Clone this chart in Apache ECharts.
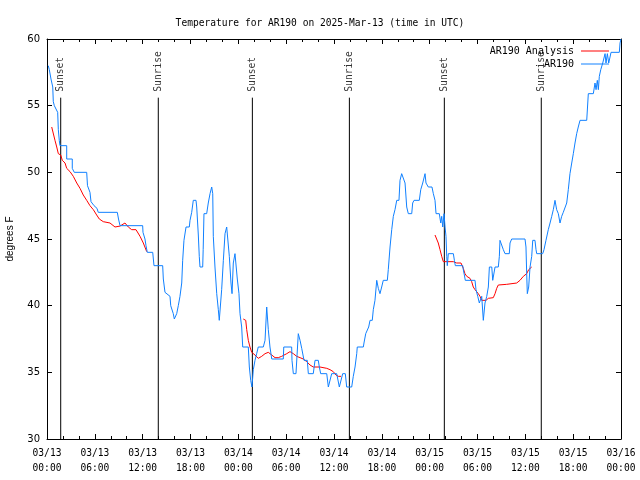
<!DOCTYPE html>
<html><head><meta charset="utf-8">
<script src="https://cdn.jsdelivr.net/npm/echarts@6/dist/echarts.min.js"></script>
<style>html,body{margin:0;padding:0;background:#fff}#c{width:640px;height:480px}</style>
</head><body><div id="c"></div>
<script>
// hours since 2025-03-13 00:00 UTC
const blueHours = [0.16,0.29,0.50,0.72,0.79,0.92,1.13,1.34,1.42,1.54,1.63,2.47,2.47,3.17,3.17,3.42,3.42,4.98,5.08,5.33,5.39,5.52,5.90,6.27,6.43,8.82,8.97,9.16,12.00,12.04,12.29,12.42,12.58,13.26,13.42,14.51,14.59,14.80,15.05,15.43,15.52,15.84,15.97,16.18,16.27,16.47,16.68,16.90,17.02,17.18,17.44,17.85,17.94,18.15,18.35,18.69,18.78,18.98,19.10,19.19,19.53,19.59,19.69,20.03,20.23,20.45,20.66,20.79,20.86,21.07,21.29,21.49,21.61,21.79,21.91,22.12,22.33,22.54,22.74,22.87,23.08,23.21,23.37,23.58,23.80,23.87,24.08,24.21,24.42,24.55,25.25,25.38,25.55,25.71,25.88,26.09,26.30,26.50,27.13,27.35,27.56,27.76,27.97,28.19,29.64,29.70,30.69,30.73,30.90,31.23,31.52,31.74,31.95,32.24,32.65,32.78,33.40,33.62,34.03,34.16,34.33,35.09,35.29,35.50,35.71,36.34,36.67,36.88,37.09,37.42,37.59,38.22,38.42,38.64,38.85,38.92,39.68,39.76,39.98,40.18,40.35,40.52,40.80,40.93,41.14,41.36,41.56,41.77,41.98,42.18,42.69,42.81,43.03,43.24,43.44,43.65,43.87,44.15,44.28,44.49,44.69,44.91,45.12,45.32,45.75,45.87,46.04,46.70,46.88,47.13,47.42,47.54,47.83,48.29,48.46,48.67,48.80,49.21,49.39,49.51,49.64,49.80,49.93,50.05,50.14,50.21,50.34,50.97,51.10,51.22,52.15,52.22,52.35,52.47,53.69,53.81,54.03,54.23,54.53,54.73,54.94,55.16,55.36,55.49,55.79,55.91,56.20,56.61,56.74,56.82,57.04,57.24,57.45,57.99,58.08,58.29,59.96,60.08,60.17,60.25,60.42,60.59,60.80,60.93,61.21,61.34,61.43,62.18,62.34,62.59,62.88,63.10,63.31,63.51,63.72,63.93,64.14,64.35,64.56,64.76,64.97,65.19,65.39,65.60,65.82,66.02,66.23,66.44,66.64,66.86,67.70,67.90,68.53,68.74,68.87,69.03,69.16,69.28,69.46,69.71,70.00,70.12,70.29,70.46,70.62,70.75,71.79,71.88,72.00];
const blueTemps = [58.0,57.7,57.0,56.4,55.3,55.0,55.0,54.5,53.2,52.4,52.0,52.0,51.0,51.0,50.3,50.3,50.0,50.0,49.0,49.0,48.5,47.8,47.5,47.3,47.0,47.0,46.5,46.0,46.0,45.5,45.0,44.5,44.0,44.0,43.0,43.0,42.0,41.0,40.9,40.7,40.0,39.4,39.0,39.0,39.4,40.0,40.7,41.7,43.4,44.9,45.9,45.9,46.4,47.0,47.9,47.9,47.4,45.3,43.7,42.9,42.9,44.2,46.9,46.9,47.7,48.4,48.9,48.4,45.2,42.9,40.9,39.7,38.9,38.9,41.2,43.4,45.4,45.9,45.9,43.7,41.7,40.9,43.2,43.9,43.9,42.0,40.9,39.4,38.4,36.9,36.9,35.4,34.4,33.9,35.2,35.9,36.4,36.9,36.9,37.4,39.9,38.2,36.9,36.0,36.0,36.9,36.9,35.9,34.9,34.9,37.9,37.4,36.8,35.9,35.9,34.9,34.9,35.9,35.9,35.4,34.9,34.9,33.9,33.9,34.9,34.9,33.9,33.9,34.9,34.9,33.9,33.9,34.7,35.4,36.4,36.9,36.9,37.2,37.9,37.9,38.4,38.9,38.9,39.7,40.4,41.9,41.3,40.9,41.4,41.9,41.9,42.7,44.4,45.7,46.7,47.2,47.9,47.9,49.4,49.9,49.9,49.2,47.4,46.9,46.9,47.7,47.9,47.9,48.7,49.2,49.9,49.2,48.9,48.9,48.4,47.9,46.9,46.9,46.2,46.7,45.9,46.9,45.9,45.2,43.7,43.0,43.9,43.9,43.4,43.0,43.0,42.7,42.3,41.9,41.9,41.2,40.7,40.2,40.7,38.9,40.2,40.7,41.4,42.9,42.9,41.9,42.9,42.9,43.7,44.9,44.9,44.2,43.9,43.9,44.7,45.0,45.0,44.4,42.4,40.9,41.4,42.9,43.7,44.9,44.9,44.2,43.9,43.9,44.2,44.9,45.7,46.2,46.7,47.2,47.9,47.2,46.9,46.2,46.7,47.0,47.0,47.7,48.7,49.9,50.7,51.4,52.2,52.9,53.4,53.9,53.9,55.9,55.9,56.7,56.2,56.9,56.2,57.2,57.7,58.2,58.9,58.2,58.9,58.2,58.2,59.0,59.0,59.7,60.0];
// analysis segments, null separates them
const redHours = [0.59,0.79,1.00,1.22,1.42,1.72,1.92,2.26,2.47,2.89,3.30,3.73,4.14,4.55,4.98,5.39,5.81,6.23,6.56,7.06,7.90,8.53,9.16,9.78,10.20,10.62,11.16,11.67,12.08,12.51,null,
  24.62,24.93,25.05,25.25,25.46,25.68,26.09,26.50,26.93,27.35,27.76,28.19,28.60,29.01,29.44,30.07,30.48,30.90,31.32,31.74,32.15,32.58,32.99,33.40,34.24,35.09,35.50,35.91,36.25,36.54,36.88,null,
  48.67,49.08,49.30,49.51,49.71,50.97,51.39,51.93,52.22,52.43,52.65,53.06,53.27,53.47,53.69,53.90,54.10,54.31,54.53,54.73,55.07,55.36,55.98,56.20,56.41,56.61,56.74,57.66,58.92,59.33,59.75,60.17,60.42,60.59,60.80];
const redTemps = [53.4,53.3,52.4,51.9,51.4,51.3,50.9,50.7,50.3,50.05,49.7,49.2,48.8,48.3,47.9,47.5,47.2,46.8,46.5,46.3,46.2,45.9,45.97,46.2,45.9,45.7,45.7,45.2,44.7,44.05,null,
  39.0,38.9,38.2,37.4,36.9,36.5,36.3,36.05,36.2,36.4,36.5,36.3,36.1,36.1,36.2,36.4,36.55,36.4,36.2,36.1,36.0,35.8,35.55,35.4,35.4,35.3,35.2,35.05,34.8,34.7,34.7,null,
  45.3,44.7,44.2,43.7,43.3,43.3,43.2,43.2,42.8,42.4,42.2,42.05,41.8,41.4,41.2,41.1,40.9,40.7,40.4,40.3,40.4,40.55,40.6,40.9,41.3,41.55,41.6,41.6,41.7,41.9,42.2,42.4,42.7,42.8,42.9];
const sunHours = [1.72,13.96,25.76,37.93,49.84,62.0];
const sunLabels = ['Sunset','Sunrise','Sunset','Sunrise','Sunset','Sunrise'];
const dayLabels = ['03/13','03/14','03/15','03/16'];
const hourLabels = ['00:00','06:00','12:00','18:00'];
const seriesNames = ['AR190 Analysis','AR190'];
const sunLineTop = 55.6;
const sunLabelBase = 56.05;

const mono = "'DejaVu Sans Mono', monospace";
const sans = "'DejaVu Sans', sans-serif";

const blueData = blueHours.map((h,i)=>[h, blueTemps[i]]);
const redData = redHours.map((h,i)=> h===null ? '-' : [h, redTemps[i]]);
const sunLineData = [];
sunHours.forEach(h=>{ sunLineData.push([h,30],[h,sunLineTop],'-'); });
const sunLabelData = sunHours.map((h,i)=>({value:[h,sunLabelBase], name:sunLabels[i]}));

const chart = echarts.init(document.getElementById('c'), null, {renderer:'canvas'});
const xCommon = {
  type:'value', min:0, max:72, interval:6,
  axisLine:{show:true, onZero:false, lineStyle:{color:'#000', width:1}},
  axisTick:{show:true, inside:true, length:5, lineStyle:{color:'#000'}},
  minorTick:{show:true, splitNumber:3, length:3, lineStyle:{color:'#000'}},
  splitLine:{show:false}
};
const yCommon = {
  type:'value', min:30, max:60, interval:5,
  axisLine:{show:true, onZero:false, lineStyle:{color:'#000', width:1}},
  axisTick:{show:true, inside:true, length:5, lineStyle:{color:'#000'}},
  splitLine:{show:false}
};
chart.setOption({
  animation:false,
  backgroundColor:'#fff',
  title:{text:'Temperature for AR190 on 2025-Mar-13 (time in UTC)', left:'center', top:13,
    textStyle:{fontFamily:mono, fontSize:9.6, fontWeight:'normal', color:'#000'}},
  grid:{left:47, right:19, top:39, bottom:41, containLabel:false, outerBoundsMode:'none'},
  legend:{orient:'vertical', right:31, top:44.5, align:'right', itemGap:0, padding:0,
    itemWidth:28, itemHeight:1, icon:'rect',
    data:[{name:seriesNames[0]},{name:seriesNames[1]}],
    textStyle:{fontFamily:mono, fontSize:10, color:'#000', lineHeight:13, padding:[0,2,0,0]}},
  xAxis:[
    Object.assign({}, xCommon, {position:'bottom',
      axisLabel:{show:true, margin:7, fontFamily:mono, fontSize:9.6, color:'#000', lineHeight:15,
        formatter:v=>dayLabels[Math.floor(v/24)]+'\n'+hourLabels[Math.round((v%24)/6)]}}),
    Object.assign({}, xCommon, {position:'top', axisLabel:{show:false}})
  ],
  yAxis:[
    Object.assign({}, yCommon, {position:'left', name:'degrees F', nameLocation:'middle', nameGap:32, nameRotate:90,
      nameTextStyle:{fontFamily:"'Liberation Sans', sans-serif", fontSize:10, color:'#000'},
      axisLabel:{show:true, margin:7, fontFamily:sans, fontSize:10, color:'#000'}}),
    Object.assign({}, yCommon, {position:'right', axisLabel:{show:false}})
  ],
  series:[
    {name:'sun', type:'line', data:sunLineData, symbol:'none', silent:true,
      lineStyle:{color:'#000', width:1}, connectNulls:false},
    {name:'sunlabels', type:'scatter', data:sunLabelData, symbolSize:0, silent:true,
      label:{show:true, formatter:p=>p.name, rotate:90, position:'inside', align:'left', verticalAlign:'middle',
        fontFamily:mono, fontSize:9.6, color:'#000'}},
    {name:seriesNames[0], type:'line', data:redData, symbol:'none', connectNulls:false,
      lineStyle:{color:'#ff0000', width:1}, itemStyle:{color:'#ff0000'}},
    {name:seriesNames[1], type:'line', data:blueData, symbol:'none',
      lineStyle:{color:'#1080ff', width:1}, itemStyle:{color:'#1080ff'}}
  ]
});
</script></body></html>
